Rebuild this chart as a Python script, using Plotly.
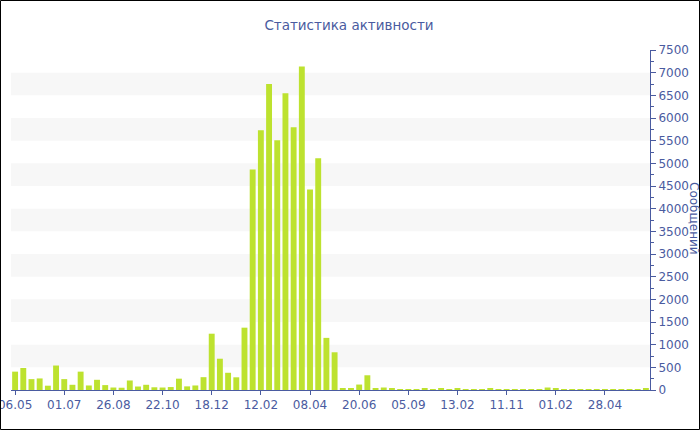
import plotly.graph_objects as go

title_text = "Статистика активности"
y_title = "Сообщений"

tick_labels = ["06.05", "01.07", "26.08", "22.10", "18.12", "12.02", "08.04",
               "20.06", "05.09", "13.02", "11.11", "01.02", "28.04"]

messages = [405, 485, 240, 255, 95, 540, 240, 115, 405, 100,
            225, 108, 55, 50, 210, 77, 115, 60, 55, 65,
            250, 80, 100, 283, 1242, 690, 380, 280, 1375, 4866,
            5728, 6752, 5507, 6545, 5795, 7134, 4424, 5110, 1150, 832,
            27, 27, 120, 325, 35, 55, 28, 22, 22, 20,
            24, 20, 30, 20, 24, 20, 20, 20, 24, 20,
            20, 20, 20, 20, 20, 55, 24, 20, 20, 20,
            20, 20, 20, 20, 20, 20, 20, 35]

x_idx = list(range(len(messages)))
tick_step = 6
tick_pos = list(range(0, len(messages), tick_step))[:len(tick_labels)]

axis_color = "#4a5ba0"
bar_color = "#bde22f"
band_color = "#f7f7f7"

fig = go.Figure()
fig.add_trace(go.Bar(x=x_idx, y=messages, marker=dict(color=bar_color, line=dict(width=0)),
                     hoverinfo="y"))

# alternating bands
shapes = []
for lo in range(500, 7500, 1000):
    shapes.append(dict(type="rect", xref="paper", yref="y", x0=0, x1=1, y0=lo, y1=lo + 500,
                       fillcolor=band_color, line=dict(width=0), layer="below"))

# outer black border
W, H = 700, 430
ml, mr, mt, mb = 11, 50, 50, 40
pw, ph = W - ml - mr, H - mt - mb
shapes.append(dict(type="rect", xref="paper", yref="paper",
                   x0=(0.5 - ml) / pw, x1=(W - 0.5 - ml) / pw,
                   y0=-(mb - 0.5) / ph, y1=1 + (mt - 0.5) / ph,
                   line=dict(color="black", width=1), fillcolor="rgba(0,0,0,0)"))

fig.update_layout(
    width=W, height=H,
    margin=dict(l=ml, r=mr, t=mt, b=mb, autoexpand=False),
    paper_bgcolor="white", plot_bgcolor="white",
    bargap=0.28,
    showlegend=False,
    shapes=shapes,
    font=dict(family="DejaVu Sans", size=12, color=axis_color),
    title=dict(text=title_text, x=349 / W, xanchor="center", y=1 - 25 / H, yanchor="middle",
               font=dict(family="DejaVu Sans", size=13.5, color=axis_color)),
    xaxis=dict(range=[-0.5, len(messages) - 0.5], tickmode="array", tickvals=tick_pos,
               ticktext=tick_labels, showgrid=False, zeroline=False, automargin=False,
               ticklabeloverflow="allow",
               showline=True, linecolor=axis_color, linewidth=1,
               ticks="outside", ticklen=4, tickcolor=axis_color,
               tickfont=dict(family="DejaVu Sans", size=12, color=axis_color)),
    yaxis=dict(side="right", range=[0, 7500], dtick=500, showgrid=False, zeroline=False,
               automargin=False, ticklabeloverflow="allow",
               showline=True, linecolor=axis_color, linewidth=1,
               ticks="outside", ticklen=5, tickcolor=axis_color,
               minor=dict(dtick=250, ticks="outside", ticklen=3, tickcolor=axis_color),
               tickfont=dict(family="DejaVu Sans", size=12, color=axis_color)),
    annotations=[dict(text=y_title, xref="paper", yref="paper",
                      x=(694 - ml) / pw, y=(H - mb - 218) / ph, xanchor="center", yanchor="middle",
                      textangle=90, showarrow=False,
                      font=dict(family="DejaVu Sans", size=12, color=axis_color))],
)

fig.write_html("out.html", config={"displayModeBar": False},
               post_script="document.body.style.margin='0';document.body.style.overflow='hidden';")
